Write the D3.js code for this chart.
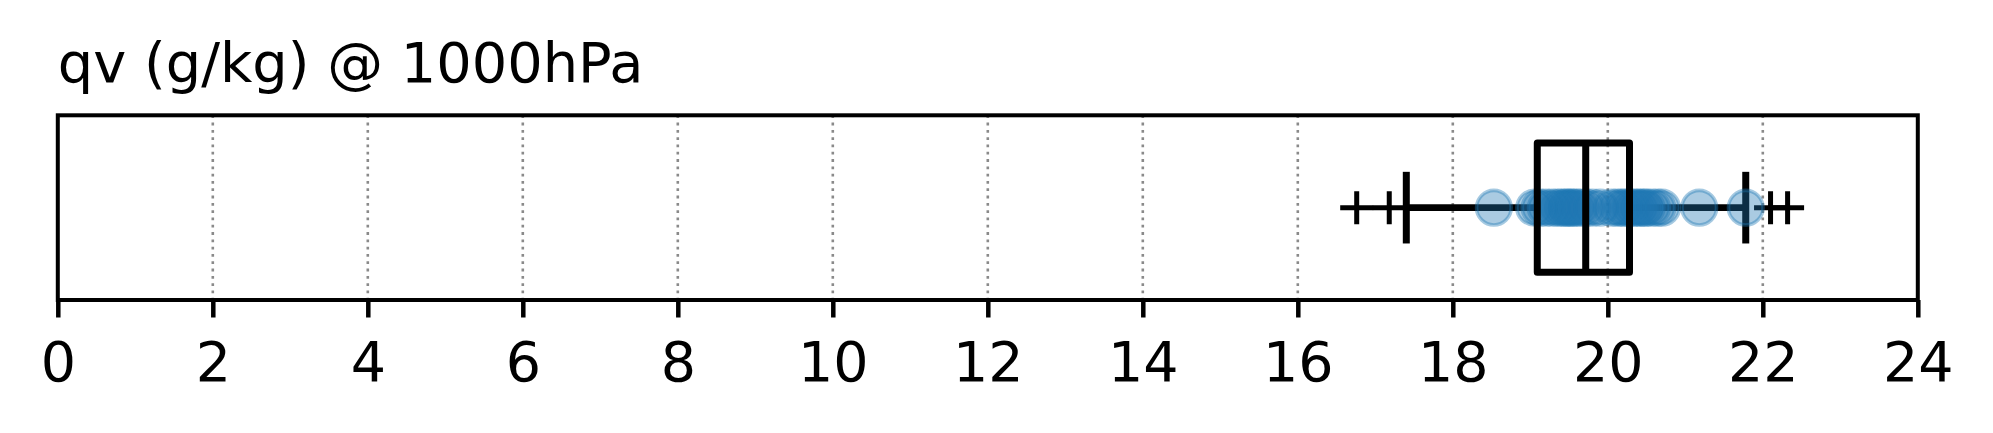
<!DOCTYPE html>
<html>
<head>
<meta charset="utf-8">
<script src="https://cdn.jsdelivr.net/npm/d3@7"></script>
<style>
  html, body { margin: 0; padding: 0; background: #fff; }
  svg { display: block; }
</style>
</head>
<body>
<svg id="chart" width="1993" height="433"></svg>
<script>
// ---- data ----
const chartTitle = "qv (g/kg) @ 1000hPa";
const xTicks = [0, 2, 4, 6, 8, 10, 12, 14, 16, 18, 20, 22, 24];
const xTickLabels = ["0", "2", "4", "6", "8", "10", "12", "14", "16", "18", "20", "22", "24"];
const boxQuartiles = [19.09, 19.715, 20.28];   // Q1, median, Q3
const whiskerEnds = [17.40, 21.78];            // low, high
const fliers = [16.76, 17.18, 22.10, 22.32];
const samples = [18.53, 19.05, 19.12, 19.20, 19.28, 19.35, 19.40, 19.45, 19.48, 19.52,
                 19.55, 19.60, 19.65, 19.72, 19.80, 19.90, 20.05, 20.12, 20.18, 20.22,
                 20.28, 20.33, 20.38, 20.42, 20.47, 20.50, 20.57, 20.64, 20.70, 21.18, 21.78];

(function () {
// ---- layout ----
const plotL = 57.8, plotR = 1917.8, plotT = 115.3, plotB = 300;
const svg = d3.select("#chart");
const x = d3.scaleLinear().domain([0, 24]).range([plotL, plotR]);
const y = d3.scaleLinear().domain([0.5, 1.5]).range([plotB, plotT]);
const font = "'DejaVu Sans', sans-serif";

// grid
svg.append("g").selectAll("line")
  .data(xTicks.filter(t => t > 0 && t < 24))
  .join("line")
  .attr("x1", d => x(d)).attr("x2", d => x(d))
  .attr("y1", plotT).attr("y2", plotB)
  .attr("stroke", "#8a8a8a")
  .attr("stroke-width", 2.6)
  .attr("stroke-dasharray", "2.8,4.5");

// x axis
const axis = svg.append("g")
  .attr("transform", `translate(0,${plotB})`)
  .call(d3.axisBottom(x).tickValues(xTicks).tickFormat((d, i) => xTickLabels[i]).tickSize(17.5));
axis.select(".domain").remove();
axis.selectAll(".tick line").attr("stroke", "#000").attr("stroke-width", 4.5);
axis.selectAll(".tick text")
  .attr("y", 81).attr("dy", 0)
  .attr("fill", "#000")
  .style("font-family", font)
  .style("font-size", "55.5px");

const center = 1, boxHalf = 0.35, capHalf = 0.175;
const g = svg.append("g");

// whiskers
g.selectAll("line.whisker")
  .data([[whiskerEnds[0], boxQuartiles[0]], [boxQuartiles[2], whiskerEnds[1]]])
  .join("line").attr("class", "whisker")
  .attr("x1", d => x(d[0])).attr("x2", d => x(d[1]))
  .attr("y1", y(center)).attr("y2", y(center))
  .attr("stroke", "#000").attr("stroke-width", 6.7);

// caps
g.selectAll("line.cap")
  .data(whiskerEnds)
  .join("line").attr("class", "cap")
  .attr("x1", d => x(d)).attr("x2", d => x(d))
  .attr("y1", y(center - capHalf)).attr("y2", y(center + capHalf))
  .attr("stroke", "#000").attr("stroke-width", 7).attr("stroke-linecap", "square");

// fliers (+)
const arm = 16.5;
g.selectAll("path.flier")
  .data(fliers)
  .join("path").attr("class", "flier")
  .attr("d", d => `M${x(d) - arm},${y(center)}H${x(d) + arm}M${x(d)},${y(center) - arm}V${y(center) + arm}`)
  .attr("stroke", "#000").attr("stroke-width", 5).attr("fill", "none");

// sample circles
svg.append("g").selectAll("circle")
  .data(samples)
  .join("circle")
  .attr("cx", d => x(d)).attr("cy", y(center))
  .attr("r", 17.3)
  .attr("fill", "#1f77b4").attr("fill-opacity", 0.38)
  .attr("stroke", "#1f77b4").attr("stroke-opacity", 0.4).attr("stroke-width", 3.6);

// box + median
const b = svg.append("g");
b.append("rect")
  .attr("x", x(boxQuartiles[0])).attr("width", x(boxQuartiles[2]) - x(boxQuartiles[0]))
  .attr("y", y(center + boxHalf)).attr("height", y(center - boxHalf) - y(center + boxHalf))
  .attr("fill", "none").attr("stroke", "#000").attr("stroke-width", 7)
  .attr("stroke-linejoin", "round");
b.append("line")
  .attr("x1", x(boxQuartiles[1])).attr("x2", x(boxQuartiles[1]))
  .attr("y1", y(center + boxHalf)).attr("y2", y(center - boxHalf))
  .attr("stroke", "#000").attr("stroke-width", 7);

// frame
svg.append("rect")
  .attr("x", plotL).attr("y", plotT)
  .attr("width", plotR - plotL).attr("height", plotB - plotT)
  .attr("fill", "none").attr("stroke", "#000").attr("stroke-width", 4)
  .attr("stroke-linejoin", "miter");

// title
svg.append("text")
  .attr("x", plotL).attr("y", 81.5)
  .attr("fill", "#000")
  .style("font-family", font)
  .style("font-size", "55.8px")
  .text(chartTitle);
})();
</script>
</body>
</html>
